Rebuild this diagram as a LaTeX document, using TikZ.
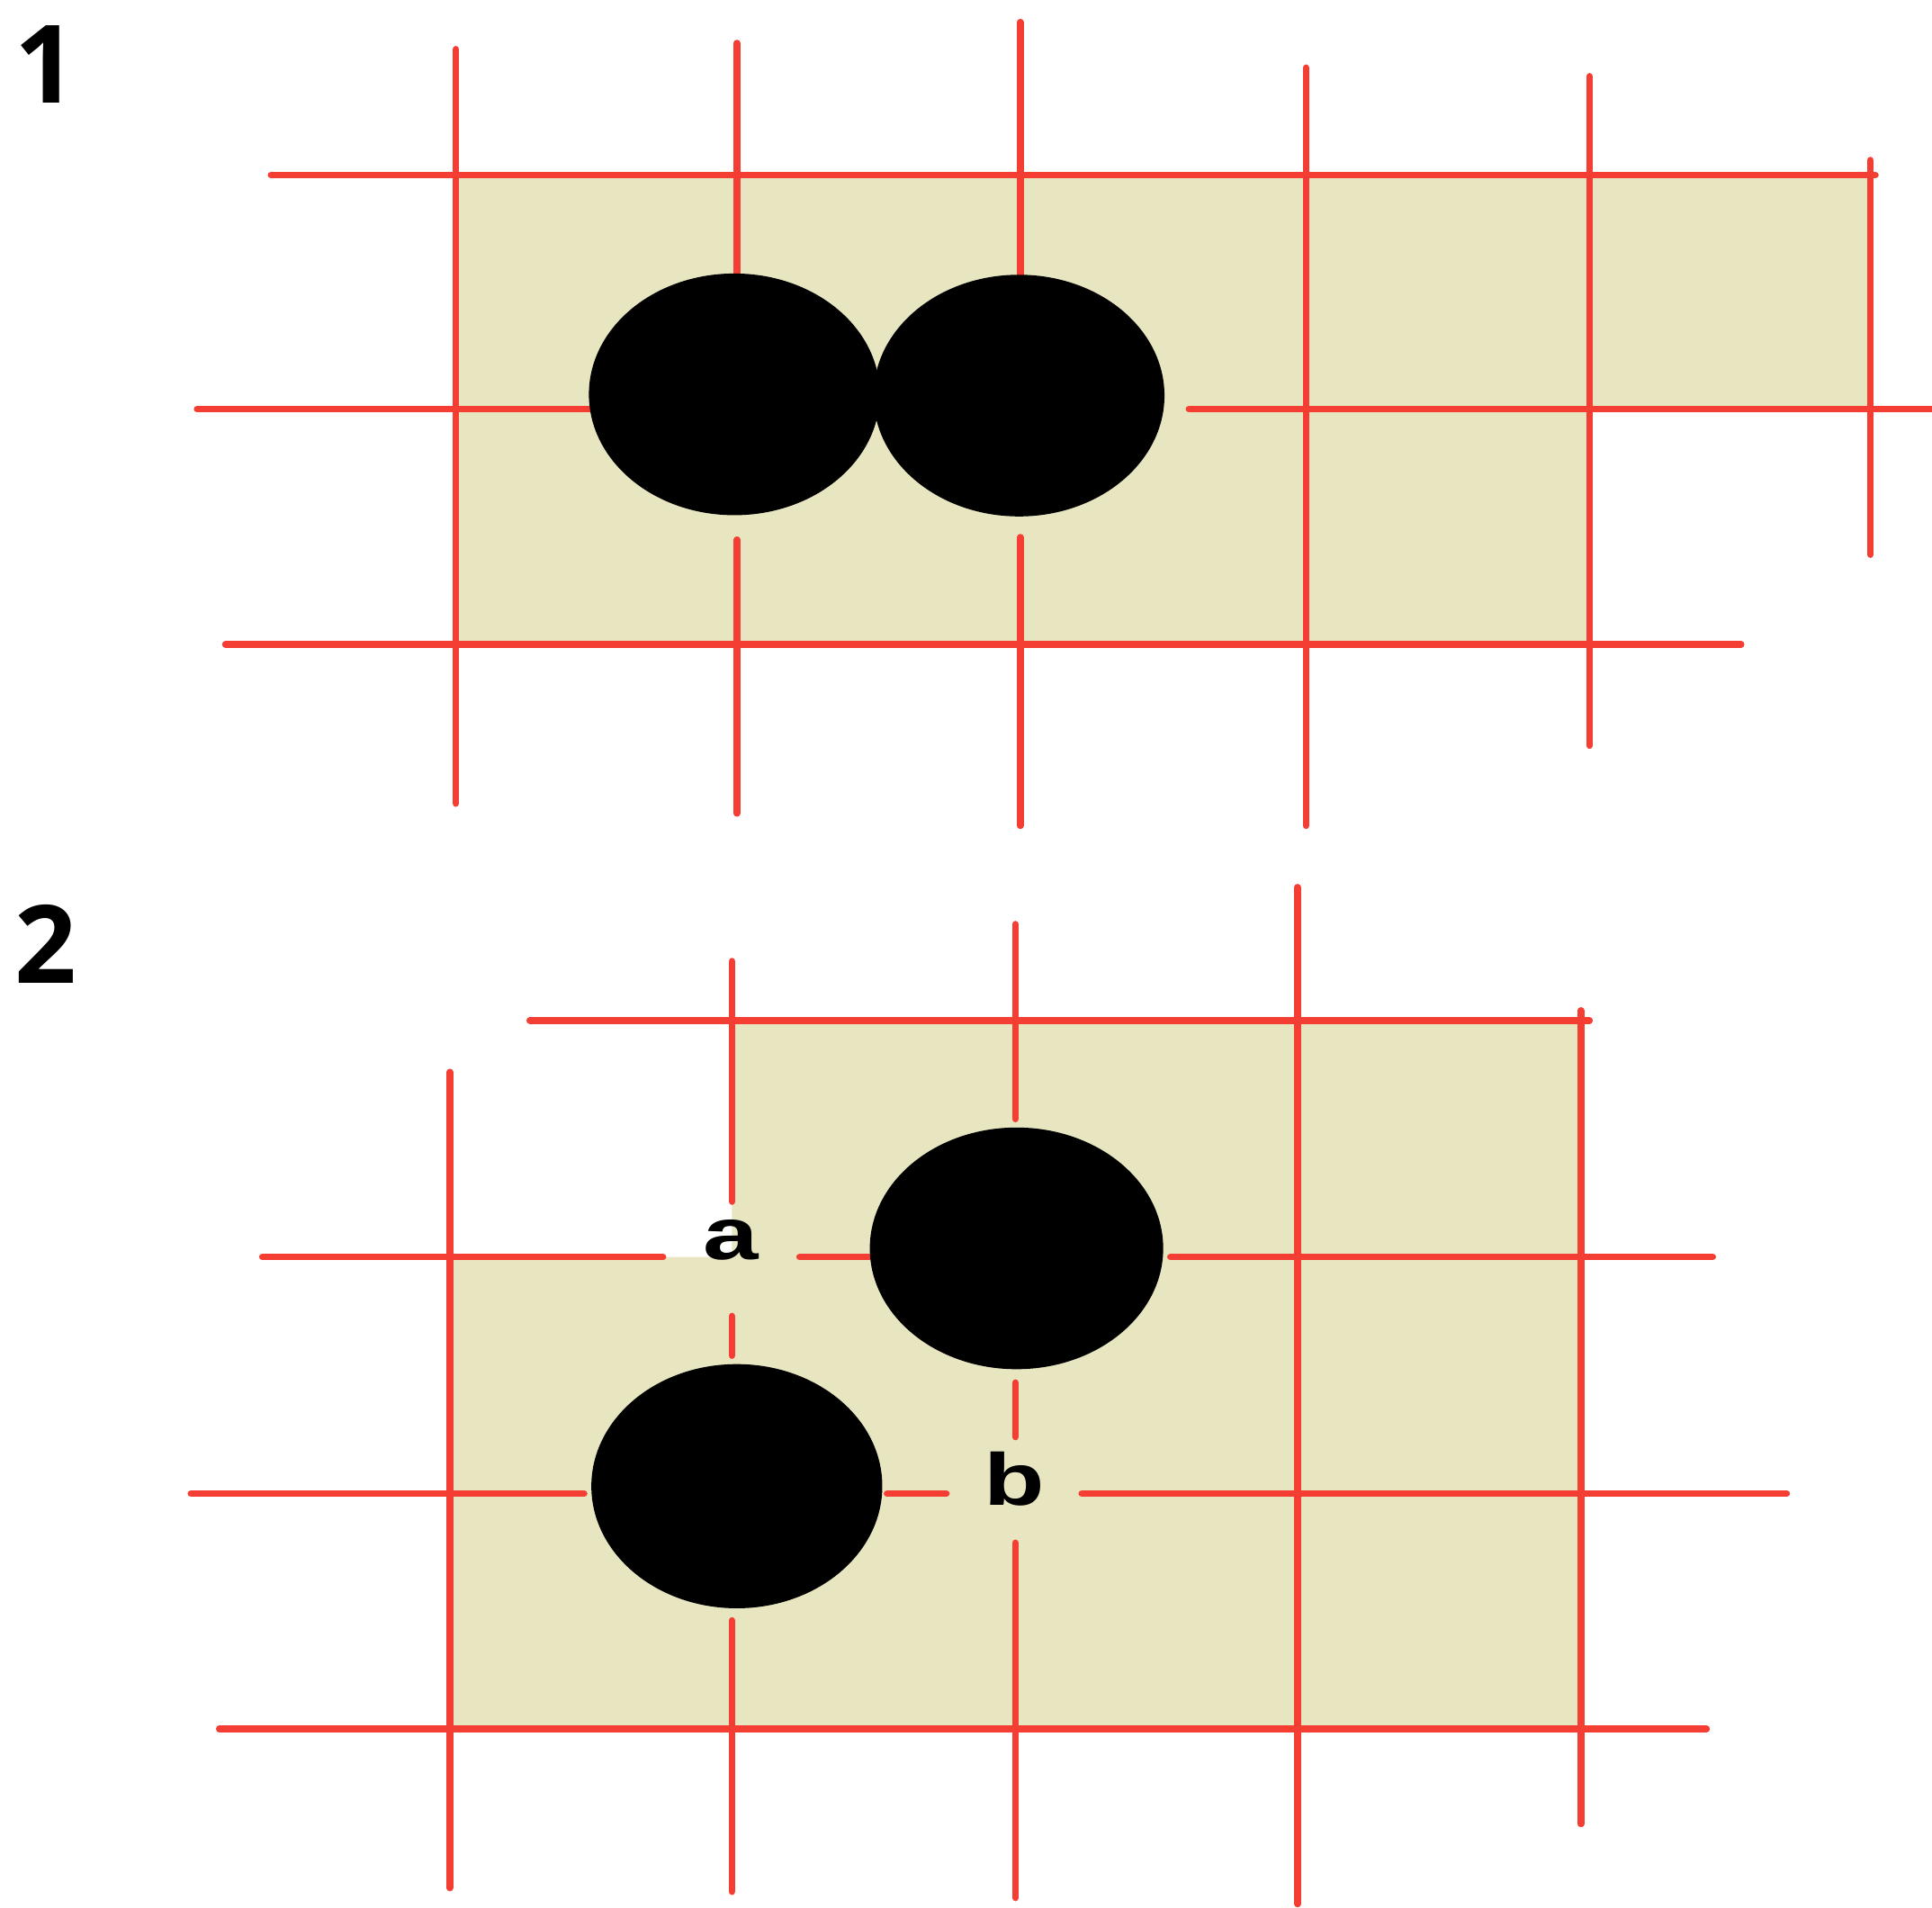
\documentclass[tikz,border=0pt]{standalone}
\usepackage{fontspec}
\setmainfont{Liberation Sans}
\newfontfamily\numfont{Open Sans}
\usetikzlibrary{shapes.geometric}
\definecolor{gridred}{RGB}{244,62,52}
\definecolor{board}{RGB}{232,230,193}
\begin{document}
\begin{tikzpicture}[x=0.01cm,y=-0.01cm,
  gl/.style={draw=gridred,line width=0.055cm,line cap=round},
  stone/.style={ellipse,fill=black,inner sep=0pt,minimum width=2.36cm,minimum height=1.96cm},
  lbl/.style={font=\fontsize{17}{20}\selectfont\bfseries,inner sep=0pt},
  num/.style={font=\numfont\fontsize{25}{30}\selectfont\bfseries,inner sep=0pt}]
\useasboundingbox (0,0) rectangle (1568,1548);
% ---------- Diagram 1 ----------
\fill[board] (370,142) -- (1518,142) -- (1518,332) -- (1290,332) -- (1290,523) -- (370,523) -- cycle;
\draw[gl] (370,40) -- (370,652);
\draw[gl] (598,35) -- (598,225) (598,438) -- (598,660);
\draw[gl] (828,18) -- (828,228) (828,436) -- (828,670);
\draw[gl] (1060,55) -- (1060,670);
\draw[gl] (1290,62) -- (1290,605);
\draw[gl] (1518,130) -- (1518,450);
\draw[gl] (220,142) -- (1522,142);
\draw[gl] (160,332) -- (482,332) (965,332) -- (1568,332);
\draw[gl] (183,523) -- (1413,523);
\node[stone] (s1a) at (596,320) {};
\node[stone] (s1b) at (827,321) {};
\node[num] (n1) at (37,52) {1};
% ---------- Diagram 2 ----------
\fill[board] (594,828) -- (1283,828) -- (1283,1403) -- (365,1403) -- (365,1020) -- (594,1020) -- cycle;
\draw[gl] (365,870) -- (365,1532);
\draw[gl] (594,780) -- (594,975) (594,1068) -- (594,1100) (594,1315) -- (594,1535);
\draw[gl] (824,750) -- (824,908) (824,1122) -- (824,1166) (824,1252) -- (824,1540);
\draw[gl] (1053,720) -- (1053,1545);
\draw[gl] (1283,820) -- (1283,1480);
\draw[gl] (430,828) -- (1290,828);
\draw[gl] (213,1020) -- (538,1020) (649,1020) -- (706,1020) (950,1020) -- (1390,1020);
\draw[gl] (155,1212) -- (474,1212) (720,1212) -- (768,1212) (878,1212) -- (1450,1212);
\draw[gl] (178,1403) -- (1385,1403);
\node[stone,minimum width=2.38cm] (s2a) at (825,1013) {};
\node[stone,minimum height=1.98cm] (s2b) at (598,1206) {};
\node[lbl] (la) at (593,1006) {\scalebox{1.35}[1]{a}};
\node[lbl] (lb) at (823,1200) {\scalebox{1.35}[1]{b}};
\node[num] (n2) at (37,766) {2};
\end{tikzpicture}
\end{document}
